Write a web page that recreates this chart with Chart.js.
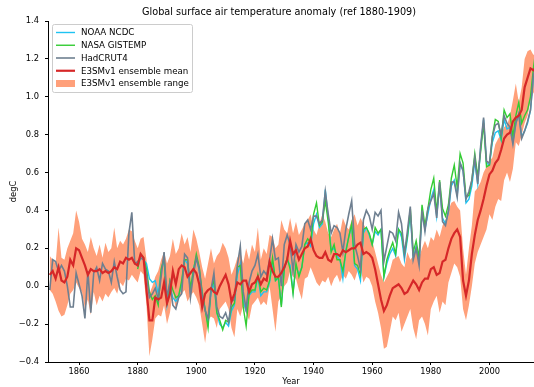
<!DOCTYPE html>
<html>
<head>
<meta charset="utf-8">
<script src="https://cdn.jsdelivr.net/npm/chart.js@4.4.0/dist/chart.umd.min.js"></script>
<style>
  html, body { margin: 0; padding: 0; background: #fff; }
</style>
</head>
<body>
<canvas id="tempChart" width="534" height="387"></canvas>
<script>
// years: model + HadCRUT4 from 1850, NOAA / NASA from 1880
const firstYear = 1850;
const obsFirstYear = 1880;

const noaaNcdc = [
  0.10, 0.15, 0.14, 0.12, 0.04, 0.02, 0.03, -0.04, 0.08, 0.14,
  -0.10, 0.00, -0.06, -0.08, -0.05, 0.01, 0.14, 0.12, -0.03, 0.09,
  0.15, 0.08, -0.04, -0.12, -0.20, -0.04, 0.02, -0.14, -0.20, -0.22,
  -0.19, -0.21, -0.13, -0.10, 0.06, 0.12, -0.08, -0.13, -0.05, -0.03,
  -0.03, 0.05, -0.05, -0.03, -0.03, 0.02, 0.13, 0.03, 0.04, -0.10,
  0.09, 0.14, 0.11, -0.03, 0.11, 0.06, 0.10, 0.22, 0.23, 0.21,
  0.33, 0.38, 0.31, 0.33, 0.51, 0.36, 0.19, 0.20, 0.16, 0.14,
  0.04, 0.19, 0.26, 0.32, 0.11, 0.09, 0.03, 0.28, 0.31, 0.27,
  0.22, 0.29, 0.27, 0.30, 0.05, 0.12, 0.17, 0.20, 0.16, 0.30,
  0.26, 0.14, 0.25, 0.38, 0.15, 0.21, 0.13, 0.39, 0.30, 0.38,
  0.46, 0.51, 0.37, 0.53, 0.36, 0.33, 0.39, 0.53, 0.56, 0.48,
  0.65, 0.61, 0.44, 0.46, 0.53, 0.66, 0.54, 0.73, 0.88, 0.65,
  0.64, 0.76, 0.81, 0.82, 0.77, 0.88, 0.83, 0.84, 0.76, 0.86,
  0.91, 0.79, 0.82, 0.86, 0.93, 1.10, 1.16
];

const nasaGistemp = [
  0.09, 0.17, 0.15, 0.09, -0.03, -0.07, -0.05, -0.10, 0.09, 0.15,
  -0.10, 0.03, -0.02, -0.06, -0.05, 0.03, 0.14, 0.14, -0.01, 0.08,
  0.17, 0.10, -0.03, -0.12, -0.22, -0.01, 0.03, -0.14, -0.18, -0.23,
  -0.18, -0.19, -0.11, -0.09, 0.10, 0.11, -0.11, -0.21, -0.04, -0.02,
  -0.02, 0.06, -0.03, -0.01, -0.02, 0.03, 0.15, 0.03, 0.05, -0.11,
  0.09, 0.15, 0.09, -0.04, 0.12, 0.05, 0.10, 0.22, 0.25, 0.23,
  0.38, 0.44, 0.32, 0.34, 0.45, 0.34, 0.18, 0.22, 0.14, 0.14,
  0.08, 0.18, 0.26, 0.33, 0.12, 0.11, 0.06, 0.30, 0.31, 0.28,
  0.22, 0.31, 0.28, 0.30, 0.05, 0.14, 0.19, 0.23, 0.17, 0.30,
  0.28, 0.17, 0.26, 0.41, 0.18, 0.24, 0.15, 0.43, 0.32, 0.41,
  0.51, 0.57, 0.39, 0.56, 0.41, 0.37, 0.43, 0.57, 0.64, 0.52,
  0.70, 0.65, 0.47, 0.48, 0.56, 0.70, 0.58, 0.71, 0.86, 0.63,
  0.64, 0.79, 0.88, 0.87, 0.78, 0.93, 0.89, 0.91, 0.79, 0.90,
  0.97, 0.86, 0.90, 0.93, 1.00, 1.15, 1.27
];

const hadcrut4 = [
  -0.02, 0.14, 0.13, 0.08, 0.11, 0.08, 0.00, -0.11, -0.11, 0.07,
  0.01, -0.05, -0.17, 0.08, -0.14, 0.07, 0.10, 0.03, 0.12, 0.09,
  0.08, 0.02, 0.13, 0.05, -0.02, -0.04, -0.03, 0.28, 0.39, 0.12,
  0.13, 0.15, 0.14, 0.06, -0.06, -0.04, -0.01, -0.07, 0.05, 0.18,
  -0.06, 0.02, -0.10, -0.12, -0.06, -0.04, 0.17, 0.15, -0.06, 0.06,
  0.15, 0.09, -0.05, -0.13, -0.17, -0.02, 0.07, -0.11, -0.16, -0.17,
  -0.14, -0.19, -0.08, -0.07, 0.11, 0.21, -0.03, -0.12, 0.02, 0.08,
  0.11, 0.17, 0.05, 0.08, 0.06, 0.14, 0.25, 0.14, 0.15, 0.00,
  0.22, 0.27, 0.22, 0.08, 0.22, 0.18, 0.21, 0.33, 0.35, 0.30,
  0.37, 0.37, 0.33, 0.35, 0.50, 0.38, 0.28, 0.32, 0.31, 0.28,
  0.18, 0.30, 0.38, 0.45, 0.22, 0.16, 0.09, 0.35, 0.40, 0.37,
  0.30, 0.39, 0.37, 0.40, 0.13, 0.21, 0.29, 0.28, 0.24, 0.39,
  0.33, 0.17, 0.29, 0.42, 0.14, 0.20, 0.11, 0.40, 0.29, 0.41,
  0.45, 0.49, 0.36, 0.55, 0.34, 0.32, 0.40, 0.55, 0.55, 0.47,
  0.65, 0.61, 0.46, 0.50, 0.56, 0.68, 0.54, 0.74, 0.89, 0.66,
  0.65, 0.79, 0.85, 0.86, 0.80, 0.90, 0.86, 0.84, 0.75, 0.86,
  0.91, 0.78, 0.82, 0.87, 0.93, 1.12, 1.15
];

const e3smMean = [
  0.06, 0.08, 0.04, 0.10, 0.03, 0.02, 0.05, 0.14, 0.11, 0.20,
  0.19, 0.15, 0.11, 0.06, 0.09, 0.08, 0.08, 0.09, 0.07, 0.08,
  0.07, 0.08, 0.10, 0.09, 0.13, 0.12, 0.15, 0.14, 0.15, 0.12,
  0.11, 0.17, 0.15, -0.02, -0.18, -0.18, -0.06, -0.07, -0.06, 0.02,
  -0.09, -0.04, 0.08, 0.01, 0.09, 0.11, 0.10, 0.05, 0.07, 0.09,
  0.07, 0.01, -0.11, -0.04, -0.02, -0.01, -0.03, -0.04, 0.00, 0.03,
  0.06, 0.01, -0.08, -0.04, 0.02, 0.01, 0.03, 0.03, -0.03, 0.01,
  0.02, 0.05, 0.01, 0.04, 0.03, 0.13, 0.08, 0.05, 0.05, 0.07,
  0.10, 0.14, 0.24, 0.17, 0.19, 0.14, 0.17, 0.20, 0.21, 0.25,
  0.19, 0.16, 0.15, 0.15, 0.18, 0.14, 0.13, 0.17, 0.17, 0.16,
  0.19, 0.18, 0.19, 0.20, 0.20, 0.22, 0.23, 0.17, 0.18, 0.17,
  0.15, 0.09, 0.01, -0.07, -0.13, -0.10, -0.05, -0.01, 0.00, 0.01,
  -0.01, -0.04, -0.03, 0.00, 0.03, 0.01, -0.02, 0.02, 0.04, 0.04,
  0.09, 0.10, 0.06, 0.07, 0.13, 0.14, 0.20, 0.25, 0.28, 0.30,
  0.26, 0.03, -0.05, 0.03, 0.17, 0.27, 0.35, 0.40, 0.46, 0.53,
  0.59, 0.61, 0.65, 0.67, 0.72, 0.78, 0.80, 0.81, 0.87, 0.89,
  0.90, 0.93, 1.05, 1.10, 1.15, 1.14, 1.16
];

const e3smLow = [
  -0.02, -0.04, -0.08, -0.13, -0.16, -0.15, -0.10, -0.04, -0.02, 0.02,
  -0.01, -0.03, -0.12, -0.07, -0.15, -0.03, -0.10, -0.05, -0.08, -0.04,
  -0.06, -0.03, -0.01, -0.04, 0.02, 0.00, 0.04, 0.03, 0.06, 0.04,
  0.02, 0.08, 0.06, -0.10, -0.37, -0.28, -0.17, -0.15, -0.16, -0.10,
  -0.20, -0.14, -0.03, -0.12, -0.05, -0.04, -0.02, -0.08, -0.05, -0.03,
  -0.06, -0.10, -0.20, -0.30, -0.18, -0.16, -0.17, -0.22, -0.12, -0.10,
  -0.08, -0.12, -0.22, -0.27, -0.12, -0.16, -0.10, -0.14, -0.18, -0.10,
  -0.08, -0.06, -0.10, -0.08, -0.10, 0.00, -0.12, -0.24, -0.08, -0.05,
  0.00, 0.02, 0.08, 0.05, 0.04, -0.02, -0.07, 0.04, 0.05, 0.10,
  0.06, 0.02, 0.00, 0.03, 0.02, 0.05, 0.00, 0.04, 0.06, 0.02,
  0.06, 0.04, 0.08, 0.06, 0.03, 0.08, 0.10, 0.02, 0.05, 0.04,
  0.00, -0.08, -0.14, -0.22, -0.33, -0.32, -0.24, -0.16, -0.18, -0.14,
  -0.24, -0.20, -0.16, -0.12, -0.22, -0.28, -0.18, -0.16, -0.20, -0.26,
  -0.12, -0.08, -0.05, -0.14, -0.08, -0.10, 0.02, 0.07, 0.12, 0.10,
  0.05, -0.12, -0.18, -0.10, 0.00, 0.12, 0.18, 0.22, 0.26, 0.30,
  0.38, 0.35, 0.42, 0.46, 0.45, 0.56, 0.60, 0.55, 0.62, 0.76,
  0.74, 0.80, 0.86, 0.90, 0.98, 1.02, 1.04
];

const e3smHigh = [
  0.16, 0.14, 0.12, 0.31, 0.15, 0.14, 0.20, 0.24, 0.28, 0.40,
  0.34, 0.25, 0.22, 0.18, 0.26, 0.20, 0.16, 0.22, 0.15, 0.23,
  0.18, 0.20, 0.31, 0.20, 0.24, 0.22, 0.25, 0.30, 0.29, 0.24,
  0.20, 0.25, 0.26, 0.14, -0.04, 0.00, 0.05, 0.08, 0.14, 0.18,
  0.12, 0.16, 0.25, 0.17, 0.20, 0.28, 0.22, 0.26, 0.18, 0.30,
  0.25, 0.18, 0.10, 0.04, 0.12, 0.20, 0.12, 0.16, 0.18, 0.23,
  0.20, 0.15, 0.06, 0.10, 0.15, 0.18, 0.12, 0.20, 0.14, 0.22,
  0.18, 0.31, 0.14, 0.20, 0.17, 0.27, 0.26, 0.20, 0.22, 0.35,
  0.30, 0.28, 0.36, 0.28, 0.34, 0.27, 0.30, 0.33, 0.35, 0.38,
  0.30, 0.27, 0.33, 0.38, 0.34, 0.28, 0.26, 0.30, 0.33, 0.28,
  0.36, 0.32, 0.30, 0.35, 0.38, 0.32, 0.36, 0.33, 0.30, 0.28,
  0.24, 0.18, 0.12, 0.06, 0.02, 0.05, 0.08, 0.14, 0.15, 0.16,
  0.12, 0.10, 0.18, 0.14, 0.16, 0.19, 0.15, 0.20, 0.24, 0.20,
  0.26, 0.24, 0.30, 0.26, 0.32, 0.35, 0.40, 0.44, 0.45, 0.42,
  0.40, 0.20, 0.06, 0.20, 0.32, 0.50, 0.52, 0.55, 0.60, 0.63,
  0.66, 0.68, 0.75, 0.78, 0.80, 0.84, 0.85, 0.90, 0.98, 1.07,
  0.97, 1.05, 1.20, 1.24, 1.25, 1.22, 1.24
];

const yTicks = { min: -0.4, max: 1.4, step: 0.2 };
const xTicks = { min: 1849.4, max: 2015.2, step: 20 };
const chartTitle = 'Global surface air temperature anomaly (ref 1880-1909)';

function toPoints(values, startYear) {
  return values.map((v, i) => ({ x: startYear + i, y: v }));
}

const fontFamily = "'DejaVu Sans', sans-serif";

// title + matplotlib-style framed legend in the upper left of the plot area
const boxLegend = {
  id: 'boxLegend',
  afterDraw(chart) {
    const ctx = chart.ctx;
    const area = chart.chartArea;
    ctx.save();
    ctx.font = '9.7px ' + fontFamily;
    ctx.fillStyle = '#000';
    ctx.textAlign = 'center';
    ctx.textBaseline = 'middle';
    ctx.fillText(chartTitle, 279, 12);

    const x0 = area.left + 4, y0 = area.top + 3, w = 140, h = 68;
    const items = chart.data.datasets.filter(d => d.label);
    ctx.fillStyle = 'rgba(255,255,255,0.8)';
    ctx.strokeStyle = '#cccccc';
    ctx.lineWidth = 1;
    ctx.beginPath();
    ctx.roundRect(x0 + 0.5, y0 + 0.5, w, h, 2);
    ctx.fill();
    ctx.stroke();
    ctx.font = '8.7px ' + fontFamily;
    ctx.textAlign = 'left';
    items.forEach((d, i) => {
      const y = y0 + 8.5 + i * 12.75;
      if (d.legendBox) {
        ctx.fillStyle = d.backgroundColor;
        ctx.fillRect(x0 + 4, y - 3.5, 19, 7);
      } else {
        ctx.strokeStyle = d.borderColor;
        ctx.lineWidth = d.borderWidth;
        ctx.beginPath();
        ctx.moveTo(x0 + 4, y);
        ctx.lineTo(x0 + 23, y);
        ctx.stroke();
      }
      ctx.fillStyle = '#000';
      ctx.fillText(d.label, x0 + 29, y + 0.5);
    });
    ctx.restore();
  }
};

const ctx = document.getElementById('tempChart').getContext('2d');

new Chart(ctx, {
  type: 'line',
  data: {
    datasets: [
      {
        label: 'NOAA NCDC',
        data: toPoints(noaaNcdc, obsFirstYear),
        borderColor: '#1ec3f2',
        borderWidth: 1.4,
        pointRadius: 0,
        fill: false,
        order: 3
      },
      {
        label: 'NASA GISTEMP',
        data: toPoints(nasaGistemp, obsFirstYear),
        borderColor: '#33cc33',
        borderWidth: 1.4,
        pointRadius: 0,
        fill: false,
        order: 2
      },
      {
        label: 'HadCRUT4',
        data: toPoints(hadcrut4, firstYear),
        borderColor: '#6e7f90',
        borderWidth: 1.6,
        pointRadius: 0,
        fill: false,
        order: 1
      },
      {
        label: 'E3SMv1 ensemble mean',
        data: toPoints(e3smMean, firstYear),
        borderColor: '#d62728',
        borderWidth: 2.2,
        pointRadius: 0,
        fill: false,
        order: 0
      },
      {
        // lower edge of the range, only used as fill target
        data: toPoints(e3smLow, firstYear),
        borderWidth: 0,
        borderColor: 'rgba(0,0,0,0)',
        pointRadius: 0,
        fill: false,
        order: 6
      },
      {
        label: 'E3SMv1 ensemble range',
        legendBox: true,
        data: toPoints(e3smHigh, firstYear),
        borderWidth: 0,
        borderColor: 'rgba(0,0,0,0)',
        backgroundColor: '#ffa07a',
        pointRadius: 0,
        fill: '-1',
        order: 5
      }
    ]
  },
  options: {
    responsive: false,
    animation: false,
    events: [],
    layout: { padding: { top: 21 } },
    plugins: {
      legend: { display: false },
      tooltip: { enabled: false },
      title: { display: false }
    },
    scales: {
      x: {
        type: 'linear',
        min: xTicks.min,
        max: xTicks.max,
        afterFit: (scale) => { scale.height = 25; },
        ticks: {
          stepSize: xTicks.step,
          includeBounds: false,
          maxRotation: 0,
          color: '#000',
          padding: 2,
          font: { family: fontFamily, size: 8.3 },
          callback: (v) => String(v)
        },
        grid: { drawOnChartArea: false, tickLength: 3, tickColor: '#000' },
        border: { color: '#000', width: 1 },
        title: {
          display: true,
          text: 'Year',
          color: '#000',
          font: { family: fontFamily, size: 8.3 },
          padding: { top: 0, bottom: 0 }
        }
      },
      y: {
        min: yTicks.min,
        max: yTicks.max,
        afterFit: (scale) => { scale.width = 48; },
        ticks: {
          stepSize: yTicks.step,
          color: '#000',
          padding: 6,
          font: { family: fontFamily, size: 8.3 },
          callback: (v) => (v < -1e-9 ? '\u2212' : '') + Math.abs(v).toFixed(1)
        },
        grid: { drawOnChartArea: false, tickLength: 3, tickColor: '#000' },
        border: { color: '#000', width: 1 },
        title: {
          display: true,
          text: 'degC',
          color: '#000',
          font: { family: fontFamily, size: 8.3 },
          padding: { top: 9, bottom: 0 }
        }
      }
    }
  },
  plugins: [boxLegend]
});
</script>
</body>
</html>
